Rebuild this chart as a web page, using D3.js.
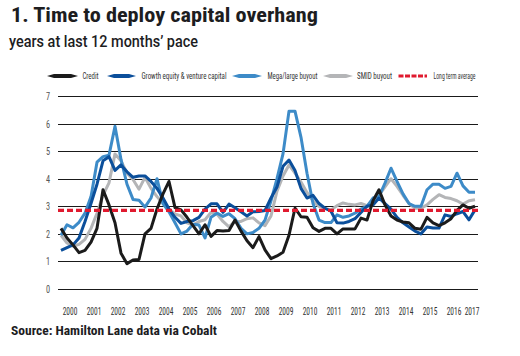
<!DOCTYPE html>
<html><head><meta charset="utf-8">
<script src="https://cdn.jsdelivr.net/npm/d3@7/dist/d3.min.js"></script>
<style>
body{margin:0;background:#fff}
text{font-family:"Liberation Sans Narrow","Roboto Condensed","DejaVu Sans Condensed","Liberation Sans",sans-serif}
</style>
</head><body>
<svg id="c" width="520" height="356"></svg>
<script>
// ---------- DATA (quarterly, Q1 2000 .. Q2 2017) ----------
const quarterStarts = d3.range(0, 70).map(i => 2000 + i / 4);

const credit = [2.2,1.85,1.6,1.32,1.4,1.7,2.2,3.6,3.05,2.4,
  1.3,0.92,1.05,1.07,2.0,2.2,2.9,3.45,3.9,2.95,
  2.87,2.6,2.3,2.0,2.33,1.91,2.12,2.1,2.12,2.5,
  2.1,1.75,1.5,1.9,1.42,1.1,1.2,1.33,1.95,2.93,
  2.62,2.6,2.22,2.09,2.2,2.2,2.0,2.18,2.18,2.18,
  2.57,2.5,3.2,3.6,3.05,2.65,2.5,2.43,2.4,2.2,
  2.17,2.6,2.4,2.3,2.4,2.55,2.85,3.05,2.93,3.0];

const growthVC = [1.4,1.5,1.6,1.85,2.45,3.1,3.8,4.65,4.8,4.3,
  4.5,4.25,4.05,4.1,4.1,3.9,3.65,3.3,2.9,2.6,
  2.38,2.45,2.48,2.6,2.9,3.09,3.09,2.78,3.08,2.95,
  2.8,2.65,2.8,2.81,2.85,3.3,3.7,4.45,4.68,4.3,
  3.65,3.3,3.4,3.1,2.93,2.82,2.4,2.39,2.45,2.55,
  2.78,3.0,3.05,3.3,3.1,2.9,2.6,2.4,2.25,2.1,
  2.0,2.25,2.21,2.21,2.69,2.63,2.73,2.81,2.51,2.87];

const megaLarge = [1.95,2.33,2.22,2.42,2.75,3.35,4.6,4.8,4.85,5.9,
  4.7,3.8,3.25,3.22,2.97,3.3,4.0,3.1,2.8,2.4,
  2.0,2.1,2.35,2.32,1.85,2.6,2.75,2.63,2.73,2.55,
  2.2,2.0,2.05,2.2,2.5,3.2,4.0,4.9,6.45,6.45,
  5.5,4.2,3.1,2.5,2.41,2.41,2.69,2.6,2.65,2.75,
  2.9,3.0,3.3,3.35,3.84,4.38,3.9,3.45,3.1,3.0,
  3.0,3.6,3.8,3.8,3.65,3.72,4.2,3.74,3.51,3.51];

const smid = [1.95,1.67,1.55,1.62,1.8,2.2,2.75,3.4,3.85,4.9,
  4.65,4.2,3.97,3.62,4.05,3.65,3.35,3.1,2.9,2.72,
  2.65,2.4,2.32,2.45,2.51,2.78,2.72,2.45,2.25,2.45,
  2.45,2.55,2.58,2.4,2.3,2.65,3.55,4.1,4.5,4.2,
  3.88,3.5,3.2,3.0,2.92,2.87,3.02,3.12,3.07,3.05,
  3.1,3.02,3.18,3.4,3.7,4.0,3.72,3.4,3.1,2.93,
  2.93,3.05,3.25,3.42,3.32,3.28,3.2,3.08,3.2,3.24];

const longTermAverage = 2.85;

const yTicks = [0,1,2,3,4,5,6,7];
const yearLabels = ["2000","2001","2002","2003","2004","2005","2006","2007","2008",
  "2009","2010","2011","2012","2013","2014","2015","2016","2017"];

const seriesNames = ["Credit","Growth equity & venture capital","Mega/large buyout","SMID buyout"];
const seriesValues = [credit, growthVC, megaLarge, smid];
const ltaName = "Long term average";

// ---------- STYLE / LAYOUT ----------
const colors = {
  "Credit":"#1b1b1b",
  "Growth equity & venture capital":"#0b4f9b",
  "Mega/large buyout":"#3d8bc8",
  "SMID buyout":"#b4b5b7",
  "Long term average":"#e01a2f"
};
const svg = d3.select("#c");
const x = d3.scaleLinear().domain([2000, 2017.5]).range([58, 478]);
const y = d3.scaleLinear().domain([0, 7]).range([289, 96]);

// Titles
svg.append("text").attr("x", 11).attr("y", 21.5)
  .attr("font-size", 21).attr("font-weight", 700).attr("fill", "#1d1d1f")
  .attr("textLength", 307).attr("lengthAdjust", "spacingAndGlyphs")
  .text("1. Time to deploy capital overhang");
svg.append("text").attr("x", 9).attr("y", 46.5)
  .attr("font-size", 16.5).attr("font-weight", 500).attr("fill", "#1d1d1f")
  .style("font-family", "Roboto, 'Noto Sans', sans-serif")
  .attr("textLength", 189).attr("lengthAdjust", "spacingAndGlyphs")
  .text("years at last 12 months\u2019 pace");
svg.append("text").attr("x", 11).attr("y", 335)
  .attr("font-size", 13.5).attr("font-weight", 700).attr("fill", "#1d1d1f")
  .attr("textLength", 206).attr("lengthAdjust", "spacingAndGlyphs")
  .text("Source: Hamilton Lane data via Cobalt");

// Grid
svg.append("g").selectAll("line").data(yTicks).join("line")
  .attr("x1", x.range()[0]).attr("x2", x.range()[1])
  .attr("y1", d => Math.round(y(d)) + 0.5).attr("y2", d => Math.round(y(d)) + 0.5)
  .attr("stroke", "#1a1a1a").attr("stroke-width", 1);

// Y labels
svg.append("g").selectAll("text").data(yTicks).join("text")
  .attr("text-anchor", "middle").attr("font-size", 11).attr("fill", "#555")
  .attr("transform", d => `translate(48,${y(d) + 4}) scale(0.75,1)`)
  .text(d => d);

// X labels (condensed; last one squeezed against the plot's right edge)
const xLabelW = 14;
svg.append("g").selectAll("text").data(yearLabels).join("text")
  .attr("text-anchor", "middle")
  .attr("transform", d => `translate(${Math.min(x(+d + 0.5), x.range()[1] - xLabelW / 2 + 1)},315) scale(0.68,1)`)
  .attr("font-size", 11).attr("fill", "#333")
  .text(d => d);

// Lines
const line = d3.line()
  .x((d, i) => x(quarterStarts[i] + 0.125))
  .y(d => y(d));
const drawOrder = [3, 2, 1, 0];
drawOrder.forEach(k => {
  svg.append("path").datum(seriesValues[k])
    .attr("d", line).attr("fill", "none")
    .attr("stroke", colors[seriesNames[k]])
    .attr("stroke-width", 3).attr("stroke-linejoin", "round");
});

// Long term average
svg.append("line")
  .attr("x1", x.range()[0]).attr("x2", x.range()[1])
  .attr("y1", y(longTermAverage)).attr("y2", y(longTermAverage))
  .attr("stroke", colors[ltaName]).attr("stroke-width", 3.2)
  .attr("stroke-dasharray", "6,3");

// Legend
const legendY = 76;
const legendItems = [
  {name: "Credit", x0: 47, x1: 78, tx: 82.5, tw: 16},
  {name: "Growth equity & venture capital", x0: 107, x1: 136, tx: 141.5, tw: 85},
  {name: "Mega/large buyout", x0: 232, x1: 262, tx: 267.5, tw: 50},
  {name: "SMID buyout", x0: 323, x1: 353, tx: 357, tw: 35},
  {name: ltaName, x0: 398.5, x1: 427, tx: 433.5, tw: 42}
];
const lg = svg.append("g");
legendItems.forEach(it => {
  if (it.name === ltaName) {
    lg.append("line").attr("x1", it.x0).attr("x2", it.x1)
      .attr("y1", legendY).attr("y2", legendY)
      .attr("stroke", colors[it.name]).attr("stroke-width", 3)
      .attr("stroke-dasharray", "5,1.5");
  } else {
    const h = 2;
    lg.append("path")
      .attr("d", `M${it.x0},${legendY} L${it.x0 + 7},${legendY - h} L${it.x1 - 7},${legendY - h} L${it.x1},${legendY} L${it.x1 - 7},${legendY + h} L${it.x0 + 7},${legendY + h} Z`)
      .attr("fill", colors[it.name]);
  }
  lg.append("text").attr("x", it.tx).attr("y", legendY + 3)
    .attr("font-size", 9).attr("fill", "#333")
    .attr("textLength", it.tw).attr("lengthAdjust", "spacingAndGlyphs")
    .text(it.name);
});
</script>
</body></html>
